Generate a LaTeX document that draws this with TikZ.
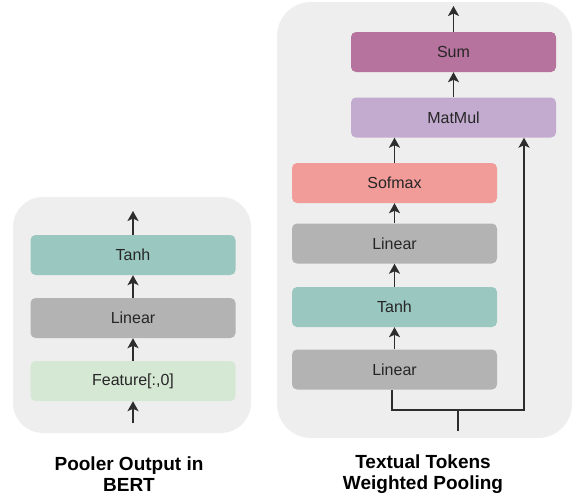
\documentclass[tikz,border=0pt]{standalone}
\usepackage{fontspec}
\setmainfont{Liberation Sans}
\usetikzlibrary{arrows.meta,positioning,calc}
\definecolor{panelgray}{RGB}{238,238,238}
\definecolor{tanhteal}{RGB}{154,199,191}
\definecolor{lingray}{RGB}{179,179,179}
\definecolor{featgreen}{RGB}{213,232,212}
\definecolor{softred}{RGB}{241,156,153}
\definecolor{mmlilac}{RGB}{195,171,208}
\definecolor{summauve}{RGB}{181,115,157}
\definecolor{wire}{RGB}{45,45,45}

\begin{document}
\begin{tikzpicture}[x=1pt,y=-1pt,
  layer/.style={rounded corners=5pt,minimum width=205pt,minimum height=40pt,
    inner sep=0pt,font=\fontsize{16}{18}\selectfont,text=black!85},
  flow/.style={wire,line width=1.8pt,-{Stealth[length=10pt,width=11pt,inset=2.5pt]}},
  caption/.style={align=center,font=\fontsize{19}{21}\selectfont\bfseries}]
\useasboundingbox (0,0) rectangle (578,501);

% grey panels behind each block
\fill[panelgray,rounded corners=30pt] (13,197) rectangle (251,433);
\fill[panelgray,rounded corners=34pt] (277,2) rectangle (572,438);

% pooler output
\node[layer,fill=tanhteal] (ptanh) at (133,255) {Tanh};
\node[layer,fill=lingray] (plin) at (133,318) {Linear};
\node[layer,fill=featgreen] (pfeat) at (133,381) {Feature[:,0]};
\coordinate (pout) at (133,211);
\coordinate (pin) at (133,423);
\draw[flow] (pin) -- (pfeat);
\draw[flow] (pfeat) -- (plin);
\draw[flow] (plin) -- (ptanh);
\draw[flow] (ptanh) -- (pout);

% weighted pooling
\node[layer,fill=summauve] (wsum) at (453.5,52) {Sum};
\node[layer,fill=mmlilac] (wmm) at (453.5,117.5) {MatMul};
\node[layer,fill=softred] (wsoft) at (394.5,183) {Sofmax};
\node[layer,fill=lingray] (wlin2) at (394.5,243.5) {Linear};
\node[layer,fill=tanhteal] (wtanh) at (394.5,307) {Tanh};
\node[layer,fill=lingray] (wlin1) at (394.5,369.5) {Linear};
\coordinate (wout) at (453.5,6);
\coordinate (wsplit) at (458,410);
\coordinate (wright) at (524,410);
\coordinate (win) at (458,431);
\draw[flow] (wlin1) -- (wtanh);
\draw[flow] (wtanh) -- (wlin2);
\draw[flow] (wlin2) -- (wsoft);
\draw[flow] (wsoft) -- (wsoft |- wmm.south);
\draw[flow] (wmm) -- (wsum);
\draw[flow] (wsum) -- (wout);
\draw[wire,line width=1.8pt] (win) -- (wsplit);
\draw[flow] ([xshift=-2.5pt]wlin1.south) |- (wright) -- (wright |- wmm.south);

\node[caption] (pcap) at (129,474) {Pooler Output in\\BERT};
\node[caption] (wcap) at (423,474) {Textual Tokens\\Weighted Pooling};
\end{tikzpicture}
\end{document}
